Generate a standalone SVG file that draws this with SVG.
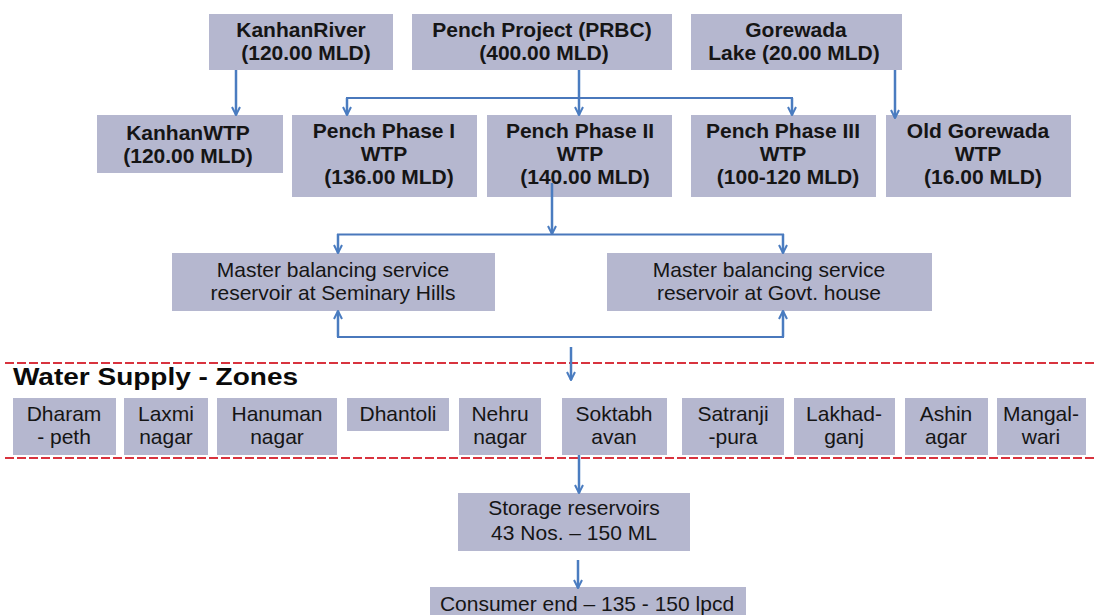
<svg xmlns="http://www.w3.org/2000/svg" width="1096" height="615" viewBox="0 0 1096 615">
<defs>
<style>
.box{fill:#b5b7cf;}
.tb{font-family:"Liberation Sans",Arial,sans-serif;font-size:21px;font-weight:bold;fill:#151515;text-anchor:middle;}
.tr{font-family:"Liberation Sans",Arial,sans-serif;font-size:21px;fill:#151515;text-anchor:middle;}
.hd{font-family:"Liberation Sans",Arial,sans-serif;font-size:23px;font-weight:bold;fill:#0a0a0a;}
.arr{fill:none;stroke:#4a7cc0;stroke-width:2.5;marker-end:url(#ah);}
.ln{fill:none;stroke:#4a78bc;stroke-width:2;}
.dash{stroke:#d8333e;stroke-width:2;stroke-dasharray:9 3;}
</style>
<marker id="ah" viewBox="0 0 10 10" refX="9" refY="5" markerWidth="10" markerHeight="10" markerUnits="userSpaceOnUse" orient="auto">
<path d="M1,1 L9,5 L1,9" fill="none" stroke="#4a7cc0" stroke-width="2"/>
</marker>
</defs>
<rect width="1096" height="615" fill="#ffffff"/>

<g id="kanhan-river"><rect class="box" x="209" y="14" width="184" height="56"/>
<text class="tb" x="301" y="37">KanhanRiver</text><text class="tb" x="306" y="60">(120.00 MLD)</text></g>
<g id="pench-project"><rect class="box" x="412" y="14" width="260" height="56"/>
<text class="tb" x="542" y="37">Pench Project (PRBC)</text><text class="tb" x="544" y="60">(400.00 MLD)</text></g>
<g id="gorewada-lake"><rect class="box" x="691" y="14" width="211" height="56"/>
<text class="tb" x="796" y="37">Gorewada</text><text class="tb" x="794" y="60">Lake (20.00 MLD)</text></g>

<g id="kanhan-wtp"><rect class="box" x="97" y="115" width="186" height="58"/>
<text class="tb" x="188" y="140">KanhanWTP</text><text class="tb" x="188" y="163">(120.00 MLD)</text></g>
<g id="pench-1"><rect class="box" x="292" y="115" width="185" height="82"/>
<text class="tb" x="384" y="138">Pench Phase I</text><text class="tb" x="384" y="161">WTP</text><text class="tb" x="389" y="184">(136.00 MLD)</text></g>
<g id="pench-2"><rect class="box" x="487" y="115" width="185" height="82"/>
<text class="tb" x="580" y="138">Pench Phase II</text><text class="tb" x="580" y="161">WTP</text><text class="tb" x="585" y="184">(140.00 MLD)</text></g>
<g id="pench-3"><rect class="box" x="691" y="115" width="185" height="82"/>
<text class="tb" x="783" y="138">Pench Phase III</text><text class="tb" x="783" y="161">WTP</text><text class="tb" x="788" y="184">(100-120 MLD)</text></g>
<g id="old-gorewada"><rect class="box" x="886" y="115" width="185" height="82"/>
<text class="tb" x="978" y="138">Old Gorewada</text><text class="tb" x="978" y="161">WTP</text><text class="tb" x="983" y="184">(16.00 MLD)</text></g>

<g id="mbsr-seminary"><rect class="box" x="172" y="253" width="323" height="58"/>
<text class="tr" x="333" y="277">Master balancing service</text><text class="tr" x="333" y="300">reservoir at Seminary Hills</text></g>
<g id="mbsr-govt"><rect class="box" x="607" y="253" width="325" height="58"/>
<text class="tr" x="769" y="277">Master balancing service</text><text class="tr" x="769" y="300">reservoir at Govt. house</text></g>

<g id="zones-band">
<line class="dash" x1="5" y1="363" x2="1096" y2="363"/>
<text class="hd" x="13" y="385" textLength="285" lengthAdjust="spacingAndGlyphs">Water Supply - Zones</text>
<line class="dash" x1="5" y1="458" x2="1096" y2="458"/>
</g>
<g id="zone-dharampeth"><rect class="box" x="13" y="398" width="103" height="57"/><text class="tr" x="64" y="421">Dharam</text><text class="tr" x="64" y="444">- peth</text></g>
<g id="zone-laxmi"><rect class="box" x="124" y="398" width="84" height="57"/><text class="tr" x="166" y="421">Laxmi</text><text class="tr" x="166" y="444">nagar</text></g>
<g id="zone-hanuman"><rect class="box" x="217" y="398" width="120" height="57"/><text class="tr" x="277" y="421">Hanuman</text><text class="tr" x="277" y="444">nagar</text></g>
<g id="zone-dhantoli"><rect class="box" x="347" y="398" width="102" height="33"/><text class="tr" x="398" y="421">Dhantoli</text></g>
<g id="zone-nehru"><rect class="box" x="459" y="398" width="82" height="57"/><text class="tr" x="500" y="421">Nehru</text><text class="tr" x="500" y="444">nagar</text></g>
<g id="zone-soktabhavan"><rect class="box" x="562" y="398" width="105" height="57"/><text class="tr" x="614" y="421">Soktabh</text><text class="tr" x="614" y="444">avan</text></g>
<g id="zone-satranjipura"><rect class="box" x="682" y="398" width="102" height="57"/><text class="tr" x="733" y="421">Satranji</text><text class="tr" x="733" y="444">-pura</text></g>
<g id="zone-lakhadganj"><rect class="box" x="794" y="398" width="101" height="57"/><text class="tr" x="844" y="421">Lakhad-</text><text class="tr" x="844" y="444">ganj</text></g>
<g id="zone-ashinagar"><rect class="box" x="905" y="398" width="83" height="57"/><text class="tr" x="946" y="421">Ashin</text><text class="tr" x="946" y="444">agar</text></g>
<g id="zone-mangalwari"><rect class="box" x="997" y="398" width="89" height="57"/><text class="tr" x="1041" y="421">Mangal-</text><text class="tr" x="1041" y="444">wari</text></g>

<g id="storage"><rect class="box" x="458" y="493" width="232" height="58"/>
<text class="tr" x="574" y="515">Storage reservoirs</text><text class="tr" x="574" y="540">43 Nos. – 150 ML</text></g>
<g id="consumer"><rect class="box" x="430" y="587" width="316" height="30"/>
<text class="tr" x="587" y="611">Consumer end – 135 - 150 lpcd</text></g>

<g id="connectors">
<line class="arr" x1="236" y1="70" x2="236" y2="115"/>
<line class="arr" x1="579" y1="70" x2="579" y2="115"/>
<polyline class="ln" points="347,105 347,98 792,98 792,105"/>
<line class="arr" x1="347" y1="98" x2="347" y2="115"/>
<line class="arr" x1="792" y1="98" x2="792" y2="115"/>
<line class="arr" x1="895" y1="70" x2="895" y2="118"/>
<line class="arr" x1="552" y1="183" x2="552" y2="234"/>
<polyline class="ln" points="338,242 338,234.5 783,234.5 783,242"/>
<line class="arr" x1="338" y1="234" x2="338" y2="253"/>
<line class="arr" x1="783" y1="234" x2="783" y2="253"/>
<polyline class="ln" points="338,330 338,337 783,337 783,330"/>
<line class="arr" x1="338" y1="337" x2="338" y2="311"/>
<line class="arr" x1="783" y1="337" x2="783" y2="311"/>
<line class="arr" x1="571" y1="347" x2="571" y2="380"/>
<line class="arr" x1="579" y1="455" x2="579" y2="493"/>
<line class="arr" x1="578" y1="560" x2="578" y2="588"/>
</g>
</svg>
